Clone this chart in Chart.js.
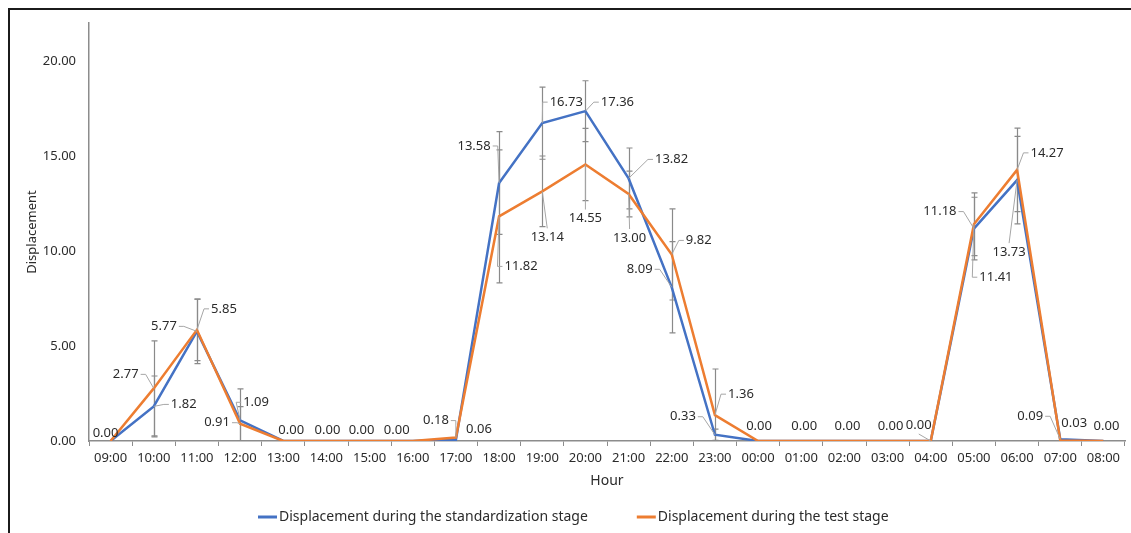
<!DOCTYPE html>
<html>
<head>
<meta charset="utf-8">
<script src="https://cdn.jsdelivr.net/npm/chart.js@4/dist/chart.umd.min.js"></script>
<style>
  html, body { margin: 0; padding: 0; background: #fff; overflow: hidden; }
  #frame { position: absolute; left: 8px; top: 8px; width: 1200px; height: 600px; border: 2px solid #1b1b1b; }
  #wrap { position: absolute; left: 0; top: 0; width: 1131px; height: 533px; }
</style>
</head>
<body>
<div id="frame"></div>
<div id="wrap"><canvas id="chart"></canvas></div>
<script>
// Displacement per hour, standardization vs test stage, with error bars.
const hours = ['09:00', '10:00', '11:00', '12:00', '13:00', '14:00', '15:00', '16:00', '17:00', '18:00', '19:00', '20:00',
  '21:00', '22:00', '23:00', '00:00', '01:00', '02:00', '03:00', '04:00', '05:00', '06:00', '07:00', '08:00'];
const standard = [0, 1.82, 5.77, 1.09, 0, 0, 0, 0, 0.06, 13.58, 16.73, 17.36, 13.82, 8.09, 0.33, 0, 0, 0, 0, 0, 11.18, 13.73, 0.09, 0];
const test = [0, 2.77, 5.85, 0.91, 0, 0, 0, 0, 0.18, 11.82, 13.14, 14.55, 13.00, 9.82, 1.36, 0, 0, 0, 0, 0, 11.41, 14.27, 0.03, 0];
const standardErr = [0, 1.6, 1.7, 1.65, 0, 0, 0, 0, 0, 2.7, 1.9, 1.6, 1.6, 2.4, 0.3, 0, 0, 0, 0, 0, 1.65, 2.3, 0, 0];
const testErr = [0, 2.5, 1.62, 0.9, 0, 0, 0, 0, 0, 3.5, 1.86, 1.9, 1.2, 2.4, 2.43, 0, 0, 0, 0, 0, 1.65, 2.2, 0, 0];
const yTicks = [0, 5, 10, 15, 20];

// label placement [dx, dy, leader line] relative to the point, null = hidden
const standardLabelPos = [[-5, -8, 0], [30, -2, 1], [-33, -5, 1], [16, -18, 1], [8, -11, 0], [1, -11, 0], [-8, -11, 0], [-16, -11, 0],
  [23, -11, 0], [-25, -37, 1], [24, -21, 1], [32, -9, 1], [43, -19, 1], [-32, -18, 1], [-32, -18, 1], [1, -15, 0], [3, -15, 0],
  [3, -15, 0], [3, -15, 0], [-12, -16, 1], [-34, -17, 1], [-8, 72, 1], [-30, -23, 1], [3, -15, 0]];
const testLabelPos = [null, [-28, -14, 1], [27, -21, 1], [-23, -1, 1], null, null, null, null,
  [-20, -17, 1], [22, 50, 1], [5, 46, 1], [0, 54, 1], [1, 44, 1], [27, -14, 1], [26, -21, 1], null, null,
  null, null, null, [22, 53, 1], [30, -17, 1], [14, -17, 0], null];

const BLUE = '#4472C4';
const ORANGE = '#ED7D31';
const TEXT = '#2b2b2b';
const FONT = "'Noto Sans', sans-serif";

const errorBars = {
  id: 'errorBars',
  beforeDatasetsDraw(chart) {
    const { ctx, chartArea: a, scales: { x, y } } = chart;
    ctx.save();
    ctx.beginPath(); ctx.rect(a.left, a.top, a.width, a.height); ctx.clip();
    ctx.strokeStyle = '#8a8a8a'; ctx.lineWidth = 1.2;
    [[standard, standardErr], [test, testErr]].forEach(([vals, errs]) => {
      vals.forEach((v, i) => {
        const e = errs[i]; if (!e) return;
        const px = Math.round(x.getPixelForValue(i)) + 0.5;
        const top = y.getPixelForValue(v + e), bot = y.getPixelForValue(v - e);
        ctx.beginPath();
        ctx.moveTo(px, top); ctx.lineTo(px, bot);
        ctx.moveTo(px - 3, top); ctx.lineTo(px + 3, top);
        ctx.moveTo(px - 3, bot); ctx.lineTo(px + 3, bot);
        ctx.stroke();
      });
    });
    ctx.restore();
  },
};

const valueLabels = {
  id: 'valueLabels',
  afterDatasetsDraw(chart) {
    const { ctx, scales: { x, y } } = chart;
    ctx.save();
    ctx.font = `13px ${FONT}`;
    ctx.textAlign = 'center'; ctx.textBaseline = 'middle';
    [[standard, standardLabelPos], [test, testLabelPos]].forEach(([vals, pos]) => {
      vals.forEach((v, i) => {
        const p = pos[i]; if (!p) return;
        const [dx, dy, leader] = p;
        const px = x.getPixelForValue(i), py = y.getPixelForValue(v);
        const lx = px + dx, ly = py + dy;
        const txt = v.toFixed(2);
        if (leader) {
          const hw = ctx.measureText(txt).width / 2 + 2;
          ctx.strokeStyle = '#a6a6a6'; ctx.lineWidth = 1;
          ctx.beginPath();
          if (Math.abs(dx) > hw) {
            const sx = dx > 0 ? lx - hw : lx + hw;
            const kx = dx > 0 ? sx - 5 : sx + 5;
            ctx.moveTo(sx, ly); ctx.lineTo(kx, ly); ctx.lineTo(px, py);
          } else {
            const sy = dy > 0 ? ly - 9 : ly + 9;
            ctx.moveTo(lx, sy); ctx.lineTo(px, py);
          }
          ctx.stroke();
        }
        ctx.fillStyle = TEXT;
        ctx.fillText(txt, lx, ly);
      });
    });
    ctx.restore();
  },
};

const lineLegend = {
  id: 'lineLegend',
  afterDraw(chart) {
    const { ctx } = chart;
    ctx.save();
    ctx.font = `14px ${FONT}`;
    ctx.textAlign = 'left'; ctx.textBaseline = 'middle';
    let cx = 258;
    const cy = 517;
    chart.data.datasets.forEach((ds) => {
      ctx.strokeStyle = ds.borderColor; ctx.lineWidth = 3;
      ctx.beginPath(); ctx.moveTo(cx, cy); ctx.lineTo(cx + 19, cy); ctx.stroke();
      ctx.fillStyle = TEXT;
      ctx.fillText(ds.label, cx + 21, cy);
      cx += 21 + ctx.measureText(ds.label).width + 49;
    });
    ctx.restore();
  },
};

new Chart(document.getElementById('chart'), {
  type: 'line',
  data: {
    labels: hours,
    datasets: [
      { label: 'Displacement during the standardization stage', data: standard, borderColor: BLUE, backgroundColor: BLUE, order: 2 },
      { label: 'Displacement during the test stage', data: test, borderColor: ORANGE, backgroundColor: ORANGE, order: 1 },
    ],
  },
  options: {
    responsive: true,
    maintainAspectRatio: false,
    animation: false,
    events: [],
    elements: { line: { borderWidth: 2.5, tension: 0, fill: false }, point: { radius: 0 } },
    layout: { padding: { left: 10, top: 23, right: 6, bottom: 42 } },
    plugins: { legend: { display: false }, tooltip: { enabled: false } },
    scales: {
      x: {
        offset: true,
        grid: { offset: true, drawOnChartArea: false, drawTicks: true, tickLength: 5, color: '#8c8c8c' },
        border: { color: '#8c8c8c', width: 1.5 },
        ticks: { color: TEXT, font: { family: FONT, size: 13 }, padding: 4, maxRotation: 0, autoSkip: false },
        title: { display: true, text: 'Hour', color: TEXT, font: { family: FONT, size: 14 }, padding: { top: 3, bottom: 2 } },
        afterFit: (s) => { s.height = 50; },
      },
      y: {
        min: 0,
        max: 22,
        grid: { drawOnChartArea: false, drawTicks: false },
        border: { color: '#8c8c8c', width: 1.5 },
        ticks: { color: TEXT, font: { family: FONT, size: 13 }, padding: 13, callback: (v) => v.toFixed(2) },
        afterBuildTicks: (s) => { s.ticks = yTicks.map((v) => ({ value: v })); },
        title: { display: true, text: 'Displacement', color: TEXT, font: { family: FONT, size: 13 }, padding: { top: 14, bottom: 0 } },
        afterFit: (s) => { s.width = 79; },
      },
    },
  },
  plugins: [errorBars, valueLabels, lineLegend],
});
</script>
</body>
</html>
